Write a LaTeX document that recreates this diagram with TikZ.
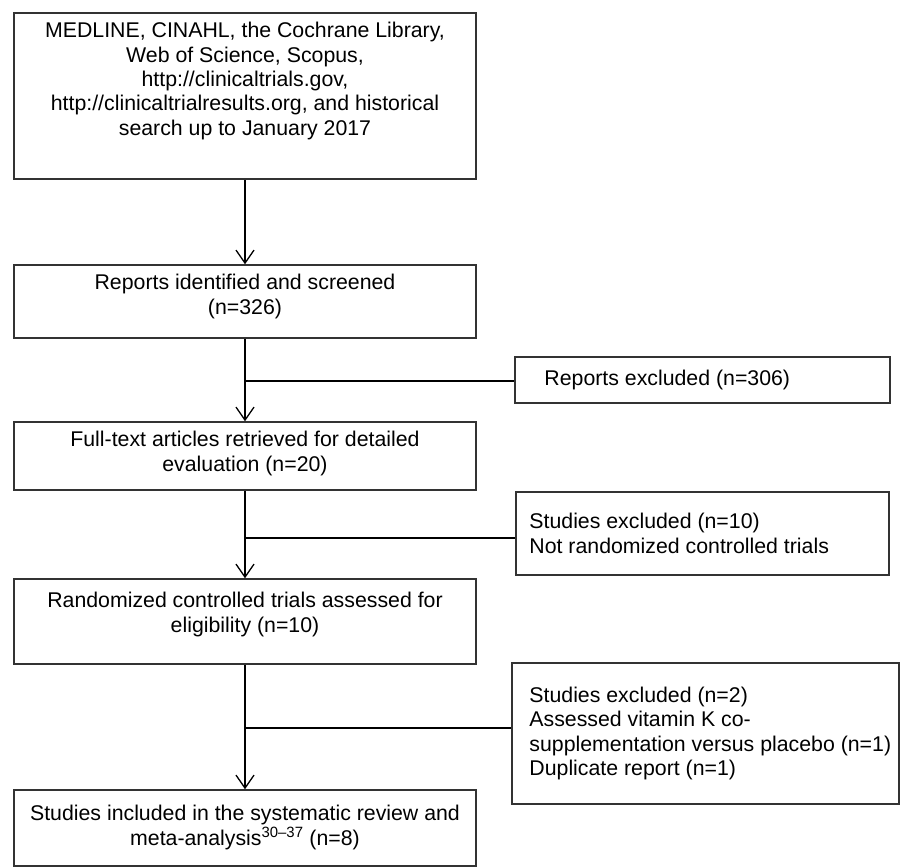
\documentclass[tikz,border=0pt]{standalone}
\usepackage{fontspec}
\setmainfont{Liberation Sans}
\usetikzlibrary{positioning,arrows.meta}

\tikzset{
  box/.style={draw=black!80, line width=1.5pt, minimum width=462pt, inner sep=0pt},
  sidebox/.style={draw=black!80, line width=1.5pt, inner sep=0pt},
  boxtext/.style={align=center, inner sep=0pt, font=\fontsize{21.3}{24.3}\selectfont},
  sidetext/.style={align=left, inner sep=0pt, font=\fontsize{21.3}{24.3}\selectfont},
  flow/.style={line width=1.3pt, -{Straight Barb[length=13pt,width=18pt]}},
  branch/.style={line width=1.3pt}
}

\begin{document}
\begin{tikzpicture}[x=1pt,y=1pt]
        \useasboundingbox (0,0) rectangle (900,-867);

        % main column
        \node[box, minimum height=166pt] (search) at (245,-96) {};
        \node[box, minimum height=73pt] (screened) at (245,-301.5) {};
        \node[box, minimum height=68pt] (fulltext) at (245,-456) {};
        \node[box, minimum height=85pt] (rcts) at (245,-621.5) {};
        \node[box, minimum height=76pt] (included) at (245,-828) {};

        \node[boxtext, below=10pt of search.north] (searchtext) {MEDLINE, CINAHL, the Cochrane Library,\\
          Web of Science, Scopus,\\ http://clinicaltrials.gov,\\
          http://clinicaltrialresults.org, and historical\\ search up to January 2017};
        \node[boxtext, below=10pt of screened.north] (screenedtext) {Reports identified and screened\\ (n=326)};
        \node[boxtext, below=10pt of fulltext.north] (fulltexttext) {Full-text articles retrieved for detailed\\ evaluation (n=20)};
        \node[boxtext, below=14pt of rcts.north] (rctstext) {Randomized controlled trials assessed for\\ eligibility (n=10)};
        \node[boxtext, below=16pt of included.north] (includedtext) {Studies included in the systematic review and\\
          meta-analysis\textsuperscript{30–37} (n=8)};

        % exclusions
        \node[sidebox, minimum width=375pt, minimum height=46pt] (excla) at (702.5,-380) {};
        \node[sidebox, minimum width=373pt, minimum height=83pt] (exclb) at (702.5,-533.5) {};
        \node[sidebox, minimum width=387pt, minimum height=141pt] (exclc) at (705.5,-733.5) {};

        \node[sidetext, right=30pt of excla.west] (exclatext) {Reports excluded (n=306)};
        \node[sidetext, right=14pt of exclb.west] (exclbtext) {Studies excluded (n=10)\\ Not randomized controlled trials};
        \node[sidetext, right=18pt of exclc.west] (exclctext) {Studies excluded (n=2)\\ Assessed vitamin K co-\\
          supplementation versus placebo (n=1)\\ Duplicate report (n=1)};

        \coordinate (ja) at (245,-381);
        \coordinate (jb) at (245,-538);
        \coordinate (jc) at (245,-728);

        \draw[flow] (search) -- (screened);
        \draw[flow] (screened) -- (fulltext);
        \draw[flow] (fulltext) -- (rcts);
        \draw[flow] (rcts) -- (included);

        \draw[branch] (ja) -- (ja -| excla.west);
        \draw[branch] (jb) -- (jb -| exclb.west);
        \draw[branch] (jc) -- (jc -| exclc.west);
\end{tikzpicture}
\end{document}
